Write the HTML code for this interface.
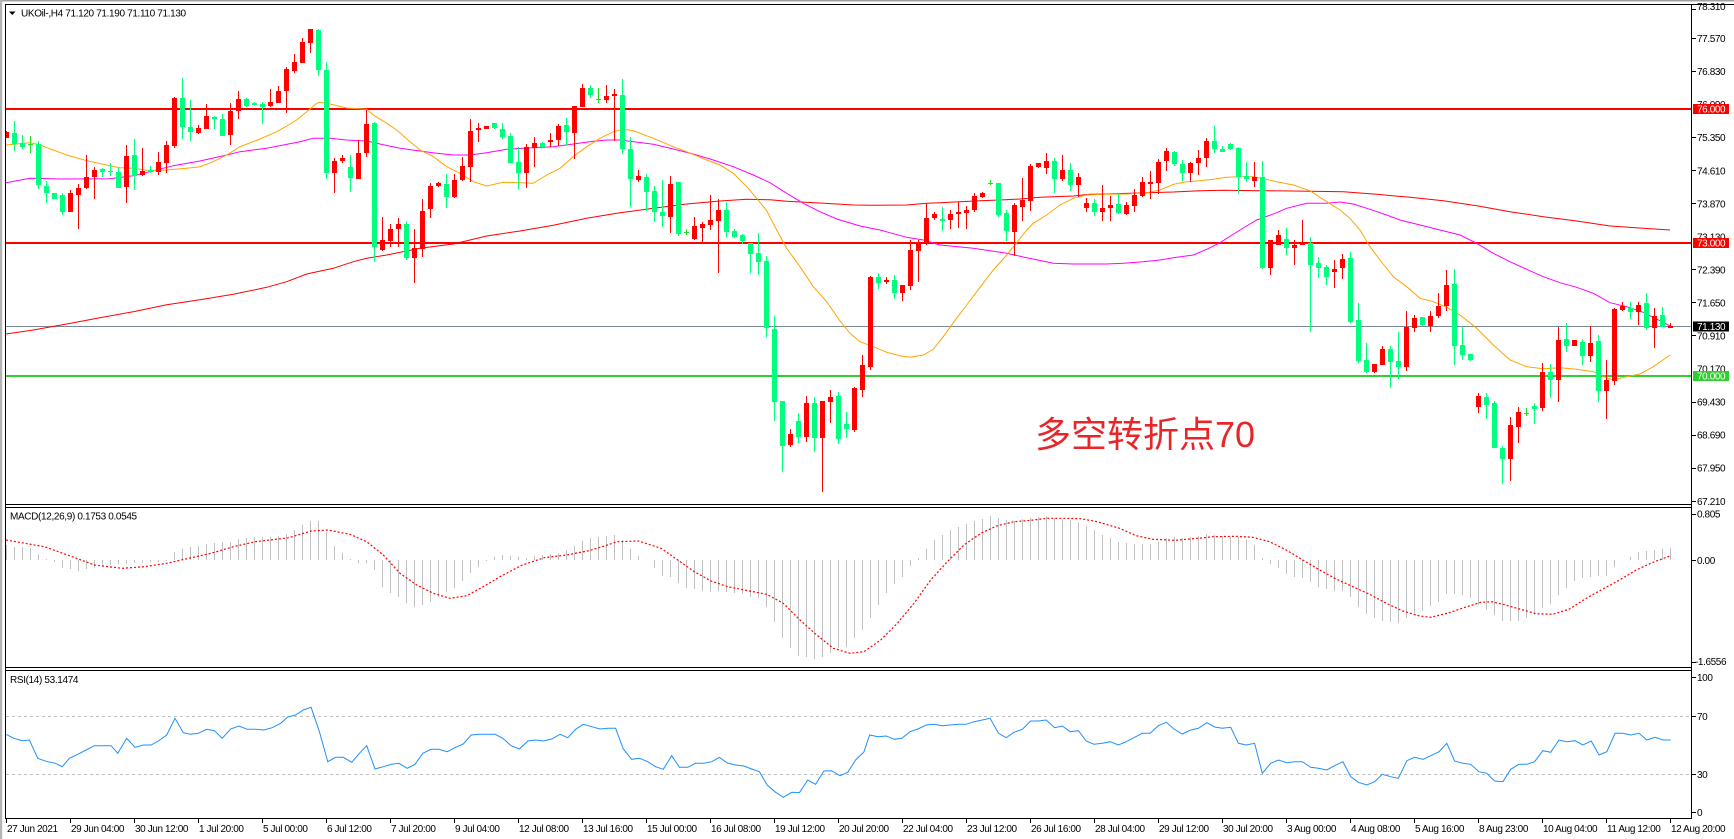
<!DOCTYPE html>
<html><head><meta charset="utf-8"><style>html,body{margin:0;padding:0;background:#fff;}svg{display:block;}</style></head><body>
<svg width="1734" height="839" viewBox="0 0 1734 839" xmlns="http://www.w3.org/2000/svg" font-family="'Liberation Sans', sans-serif" font-size="10">
<rect width="1734" height="839" fill="#fff"/>
<rect x="0" y="0" width="1734" height="1.5" fill="#a0a0a0"/>
<rect x="0" y="0" width="2.2" height="839" fill="#b4b4b4"/>
<defs><clipPath id="cm"><rect x="6" y="5" width="1685" height="499"/></clipPath></defs>

<!-- horizontal levels -->
<g shape-rendering="crispEdges">
<rect x="6" y="108" width="1685" height="2" fill="#ff0000"/>
<rect x="6" y="242" width="1685" height="2" fill="#ff0000"/>
<rect x="6" y="326" width="1685" height="1" fill="#778899"/>
<rect x="6" y="375" width="1685" height="2" fill="#32cd32"/>
</g>

<!-- moving averages -->
<g fill="none" stroke-width="1" clip-path="url(#cm)">
<polyline stroke="#ff0000" points="6,334 33.3,330 66.7,324 100,317.7 133.3,311.7 166.7,304.7 200,299.7 233.3,294.3 266.7,287.3 286.7,281.7 306.7,274 333.3,268.3 353.3,261.7 366.7,258.3 386.7,255 420,248.3 453.3,244 486.7,236 520,231 553.3,225.3 586.7,218.3 620,212.7 653.3,208.3 686.7,204 720,201 746.7,199.3 770,199.7 786.7,201.3 820,203 853.3,205 873.3,205.3 906.7,205 926.7,203.3 940,202.7 960,201.7 980,200.7 1000,200 1020,199 1040,197.3 1073.3,196 1090,194.3 1106.7,194 1130,193.3 1146.7,192.7 1173.3,192 1200,190.7 1223.3,190.3 1260,190.7 1293.3,191 1343.3,191.7 1376.7,194.3 1410,197.3 1443.3,200.7 1476.7,205.7 1510,211.7 1543.3,216.7 1576.7,221 1610,226 1643.3,228.3 1670,230"/>
<polyline stroke="#ff00ff" points="6,182.7 30,178.3 60,179 110,178.7 133.3,175.7 150,171.7 173.3,165.7 200,161 226.7,155 240,151.7 266.7,148.3 300,141.7 313.3,138.3 330,138.3 346.7,140 366.7,141 380,144 400,148.3 420,151 436.7,153.3 453.3,155 470,155 486.7,152.7 506.7,149.3 526.7,148 553.3,146.7 573.3,144 593.3,141.3 606.7,140 620,140 633.3,141.7 653.3,144.3 673.3,149 693.3,154 713.3,160 733.3,166.7 753.3,175 770,182.7 786.7,193.3 803.3,203.3 820,211.7 836.7,219 860,226 880,230 906.7,237.3 923.3,240 940,245 973.3,248.3 1006.7,253.3 1026.7,257.7 1053.3,263.3 1073.3,264 1106.7,264 1123.3,263.3 1140,262 1160,260 1173.3,257.7 1193.3,255 1206.7,249.3 1220,242.7 1240,230 1256.7,220 1276.7,212.7 1286.7,208.3 1306.7,203.3 1326.7,203.3 1340,202 1353.3,204 1370,209.3 1386.7,215 1400,220 1420,225 1440,230 1460,235 1476.7,243.3 1493.3,253.3 1510,261.7 1526.7,269.3 1543.3,276.7 1560,282.7 1576.7,287.3 1593.3,293.3 1610,302.7 1626.7,306.7 1643.3,312.3 1660,320.7 1670,326"/>
<polyline stroke="#ffa500" points="6,145 30,142.7 38,144.3 66.7,155 86.7,160.7 110,165.7 120,167.7 133.3,168.3 150,170.7 166.7,170 186.7,168.3 200,166.7 213.3,161.7 226.7,155 240,146.7 260,139 276.7,131.7 286.7,126 296.7,120 306.7,111.7 316.7,103.3 320,102.3 330,104 346.7,108 366.7,109.3 373.3,115 386.7,123.3 396.7,130 410,141.7 420,150 433.3,156.7 446.7,166.7 460,173.3 473.3,181.7 486.7,186 503.3,182.3 520,182.7 533.3,183.3 546.7,175 560,168.3 573.3,156.7 586.7,146.7 600,138.3 613.3,131.7 623.3,129.3 633.3,130.7 653.3,138.3 673.3,146.7 686.7,151.7 706.7,160 720,165 733.3,173.3 746.7,186.7 756.7,198.3 766.7,210.7 776.7,230 786.7,248.3 800,266.7 813.3,286.7 826.7,301.7 840,321 850,333.3 860,341.7 873.3,346.7 886.7,352.3 900,355.7 910,357.3 923.3,355 933.3,349.3 943.3,336.7 953.3,322.7 966.7,305 980,287.3 993.3,270 1006.7,255 1016.7,242.7 1026.7,230 1033.3,223.3 1046.7,215 1060,205 1073.3,198.3 1086.7,195 1106.7,194.3 1126.7,194 1146.7,192.7 1160,190 1173.3,184.3 1186.7,181.7 1200,180.7 1213.3,179.3 1226.7,177.3 1240,176.7 1253.3,176.7 1263.3,178.5 1276.7,181.7 1293.3,185 1310,190.7 1326.7,201.7 1340,210 1350,218.3 1360,230 1370,246.7 1380,260 1393.3,276.7 1406.7,286.7 1420,298.3 1433.3,301.7 1446.7,307.3 1460,315 1476.7,328.3 1493.3,345 1510,360 1526.7,366.7 1543.3,368.7 1560,367.7 1576.7,369.3 1593.3,371.7 1603.3,376.7 1613.3,380 1626.7,376.7 1640,374 1653.3,366.7 1670,355"/>
</g>

<!-- candles -->
<g fill="none" shape-rendering="crispEdges" clip-path="url(#cm)">
<path stroke="#ff0000" stroke-width="1" d="M6.5 131V138M70.5 190V212M78.5 184V229M86.5 155V189M94.5 167V199M126.5 145V203M142.5 148V176M158.5 152V175M166.5 141V173M174.5 97V148M198.5 125V134M206.5 104V129M230.5 103V145M238.5 91V119M270.5 89V107M278.5 86V103M286.5 67V113M294.5 54V73M302.5 38V63M310.5 29V53M334.5 158V193M342.5 155V163M358.5 140V179M366.5 110V157M382.5 217V251M390.5 224V247M398.5 218V247M414.5 229V283M422.5 199V257M430.5 183V218M438.5 182V187M454.5 174V198M462.5 157V181M470.5 119V182M478.5 123V142M486.5 126V129M526.5 144V188M534.5 137V167M550.5 133V147M558.5 124V146M574.5 106V159M582.5 84V107M606.5 85V103M614.5 89V141M638.5 170V182M670.5 176V233M694.5 217V240M702.5 222V244M710.5 195V230M718.5 199V273M790.5 429V447M806.5 396V442M822.5 401V492M830.5 390V423M854.5 387V432M862.5 355V397M870.5 276V370M886.5 277V284M902.5 285V301M910.5 240V290M918.5 240V282M926.5 203V245M934.5 212V220M950.5 210V229M958.5 202V228M966.5 206V229M974.5 193V212M982.5 192V198M1014.5 203V256M1022.5 178V221M1030.5 164V211M1038.5 163V168M1046.5 153V174M1062.5 155V181M1078.5 173V197M1086.5 198V212M1102.5 185V221M1110.5 196V221M1126.5 202V215M1134.5 189V212M1142.5 177V197M1150.5 171V199M1158.5 159V194M1166.5 148V171M1190.5 162V182M1198.5 150V175M1206.5 138V167M1254.5 162V187M1270.5 240V275M1278.5 230V245M1294.5 240V265M1302.5 220V245M1334.5 260V288M1342.5 254V279M1374.5 364V373M1382.5 346V365M1406.5 311V371M1414.5 315V332M1430.5 311V332M1438.5 293V318M1446.5 270V311M1478.5 393V413M1510.5 417V481M1518.5 407V443M1542.5 363V411M1558.5 327V402M1574.5 340V346M1590.5 326V362M1606.5 360V419M1614.5 308V385M1622.5 302V311M1638.5 302V325M1654.5 308V348M1670.5 323V328"/>
<path stroke="#ff0000" stroke-width="5" d="M6.5 132V138M70.5 193V212M78.5 188V195M86.5 177V188M94.5 170V177M126.5 156V187M142.5 171V175M158.5 162V172M166.5 145V163M174.5 98V146M198.5 128V133M206.5 116V129M230.5 111V135M238.5 99V111M270.5 102V106M278.5 91V103M286.5 69V91M294.5 62V71M302.5 42V63M310.5 29V43M334.5 161V173M342.5 158V161M358.5 153V179M366.5 124V153M382.5 240V250M390.5 229V241M398.5 224V229M414.5 248V258M422.5 211V249M430.5 186V209M438.5 183V186M454.5 180V197M462.5 166V180M470.5 131V167M478.5 128V130M486.5 126V129M526.5 147V173M534.5 143V148M550.5 140V142M558.5 126V140M574.5 106V133M582.5 88V107M606.5 96V100M614.5 94V96M638.5 176V180M670.5 184V217M694.5 226V239M702.5 224V228M710.5 220V225M718.5 210V221M790.5 434V445M806.5 403V437M822.5 401V438M830.5 397V402M854.5 388V430M862.5 365V390M870.5 277V367M886.5 280V282M902.5 285V293M910.5 250V286M918.5 243V251M926.5 218V244M934.5 214V218M950.5 214V220M958.5 212V214M966.5 210V213M974.5 196V210M982.5 193V197M1014.5 205V232M1022.5 200V207M1030.5 166V201M1038.5 163V167M1046.5 161V168M1062.5 170V179M1078.5 177V185M1086.5 203V208M1102.5 208V212M1110.5 205V208M1126.5 205V214M1134.5 195V206M1142.5 182V196M1150.5 182V184M1158.5 162V183M1166.5 151V161M1190.5 163V173M1198.5 158V163M1206.5 141V158M1254.5 177V181M1270.5 240V268M1278.5 235V245M1294.5 245V248M1302.5 243V245M1334.5 269V272M1342.5 259V268M1374.5 364V372M1382.5 349V365M1406.5 327V367M1414.5 318V328M1430.5 316V326M1438.5 306V316M1446.5 285V306M1478.5 396V407M1510.5 425V459M1518.5 412V427M1542.5 372V408M1558.5 340V380M1574.5 340V346M1590.5 343V356M1606.5 380V391M1614.5 309V381M1622.5 306V310M1638.5 305V312M1654.5 316V328M1670.5 326V328"/>
<path stroke="#00ff7f" stroke-width="1" d="M14.5 121V151M22.5 135V149M38.5 141V189M46.5 181V203M54.5 193V199M62.5 193V215M102.5 168V177M110.5 163V176M118.5 168V188M134.5 139V190M150.5 166V173M182.5 78V139M190.5 100V141M214.5 116V129M222.5 114V136M246.5 98V107M254.5 102V106M262.5 102V124M318.5 29V76M326.5 62V179M350.5 155V192M374.5 122V262M406.5 221V260M446.5 174V208M494.5 123V129M502.5 123V139M510.5 133V163M518.5 147V189M542.5 142V147M566.5 118V145M590.5 85V98M622.5 79V154M630.5 137V207M646.5 174V211M654.5 186V222M662.5 180V227M678.5 182V236M726.5 202V237M734.5 229V238M742.5 234V244M750.5 243V273M758.5 233V275M766.5 256V337M774.5 316V421M782.5 401V472M798.5 413V443M814.5 397V452M838.5 392V444M846.5 412V438M878.5 273V289M894.5 275V299M942.5 207V231M998.5 183V217M1006.5 210V241M1054.5 158V193M1070.5 163V191M1094.5 199V216M1118.5 193V214M1174.5 151V166M1182.5 160V181M1214.5 126V153M1222.5 146V152M1230.5 143V150M1238.5 147V194M1246.5 162V182M1262.5 161V269M1286.5 228V255M1310.5 237V332M1318.5 257V278M1326.5 265V285M1350.5 252V323M1358.5 303V363M1366.5 343V373M1390.5 346V388M1398.5 332V379M1422.5 317V326M1454.5 269V365M1462.5 327V360M1470.5 354V361M1486.5 393V419M1494.5 401V448M1502.5 446V484M1534.5 403V424M1550.5 364V398M1566.5 323V352M1582.5 339V365M1598.5 335V402M1630.5 302V319M1646.5 293V330M1662.5 307V327"/>
<path stroke="#00ff7f" stroke-width="5" d="M14.5 133V144M22.5 143V147M38.5 144V185M46.5 186V193M54.5 193V199M62.5 195V212M102.5 169V172M110.5 171V172M118.5 172V188M134.5 155V176M150.5 170V172M182.5 98V127M190.5 127V132M214.5 117V119M222.5 119V136M246.5 99V106M254.5 103V105M262.5 104V107M318.5 30V70M326.5 70V173M350.5 167V178M374.5 123V247M406.5 224V258M446.5 184V197M494.5 123V128M502.5 129V137M510.5 136V163M518.5 162V173M542.5 143V147M566.5 125V132M590.5 88V95M622.5 95V149M630.5 149V179M646.5 177V192M654.5 191V212M662.5 212V216M678.5 182V234M726.5 210V232M734.5 231V237M742.5 235V241M750.5 243V254M758.5 253V262M766.5 261V328M774.5 329V402M782.5 401V446M798.5 421V437M814.5 403V438M838.5 396V439M846.5 424V429M878.5 277V283M894.5 280V293M942.5 219V221M998.5 183V215M1006.5 213V231M1054.5 161V179M1070.5 170V185M1094.5 203V212M1118.5 204V213M1174.5 152V164M1182.5 164V173M1214.5 141V149M1222.5 149V152M1230.5 144V149M1238.5 148V177M1246.5 176V179M1262.5 177V268M1286.5 239V248M1310.5 243V265M1318.5 263V268M1326.5 267V277M1350.5 258V322M1358.5 320V361M1366.5 360V372M1390.5 349V362M1398.5 361V367M1422.5 317V325M1454.5 284V346M1462.5 345V355M1470.5 354V360M1486.5 397V405M1494.5 403V448M1502.5 448V459M1534.5 406V409M1550.5 372V380M1566.5 339V346M1582.5 342V356M1598.5 341V391M1630.5 308V312M1646.5 303V328M1662.5 315V327"/>
<path stroke="#22dd22" stroke-width="1" d="M30.5 136V153M28 144.5h5M598.5 88V103M596 99.5h5M686.5 229V235M684 232.5h5M990.5 180V185M988 183.5h5M1526.5 408V416M1524 413.5h5"/>
</g>

<!-- annotation -->
<text x="1035" y="447" font-size="36" fill="#e8262a" font-family="'Liberation Sans','Noto Sans CJK SC',sans-serif">多空转折点70</text>

<!-- MACD -->
<path fill="none" stroke="#c0c0c0" stroke-width="1" shape-rendering="crispEdges" d="M6.5 560V545M14.5 560V547M22.5 560V547M30.5 560V548M38.5 560V554M46.5 560V559M54.5 560V562M62.5 560V568M70.5 560V569M78.5 560V571M86.5 560V569M94.5 560V568M102.5 560V567M110.5 560V565M118.5 560V564M126.5 560V564M134.5 560V563M142.5 560V563M150.5 560V562M158.5 560V562M166.5 560V561M174.5 560V552M182.5 560V549M190.5 560V547M198.5 560V546M206.5 560V544M214.5 560V543M222.5 560V542M230.5 560V542M238.5 560V539M246.5 560V538M254.5 560V537M262.5 560V537M270.5 560V537M278.5 560V536M286.5 560V534M294.5 560V530M302.5 560V525M310.5 560V521M318.5 560V521M326.5 560V532M334.5 560V546M342.5 560V553M350.5 560V559M358.5 560V563M366.5 560V563M374.5 560V570M382.5 560V587M390.5 560V593M398.5 560V597M406.5 560V603M414.5 560V607M422.5 560V605M430.5 560V602M438.5 560V597M446.5 560V592M454.5 560V588M462.5 560V581M470.5 560V573M478.5 560V567M486.5 560V561M494.5 560V557M502.5 560V555M510.5 560V556M518.5 560V557M526.5 560V558M534.5 560V556M542.5 560V555M550.5 560V554M558.5 560V553M566.5 560V550M574.5 560V546M582.5 560V541M590.5 560V538M598.5 560V537M606.5 560V536M614.5 560V535M622.5 560V540M630.5 560V549M638.5 560V556M654.5 560V568M662.5 560V576M670.5 560V577M678.5 560V583M686.5 560V588M694.5 560V589M702.5 560V591M710.5 560V592M718.5 560V591M726.5 560V592M734.5 560V593M742.5 560V594M750.5 560V597M758.5 560V598M766.5 560V607M774.5 560V622M782.5 560V638M790.5 560V648M798.5 560V656M806.5 560V657M814.5 560V659M822.5 560V657M830.5 560V653M838.5 560V648M846.5 560V647M854.5 560V638M862.5 560V630M870.5 560V618M878.5 560V605M886.5 560V593M894.5 560V584M902.5 560V577M910.5 560V566M918.5 560V558M926.5 560V549M934.5 560V540M942.5 560V535M950.5 560V530M958.5 560V527M966.5 560V524M974.5 560V521M982.5 560V519M990.5 560V516M998.5 560V518M1006.5 560V520M1014.5 560V521M1022.5 560V519M1030.5 560V518M1038.5 560V517M1046.5 560V516M1054.5 560V518M1062.5 560V519M1070.5 560V520M1078.5 560V522M1086.5 560V526M1094.5 560V530M1102.5 560V535M1110.5 560V538M1118.5 560V542M1126.5 560V543M1134.5 560V544M1142.5 560V544M1150.5 560V544M1158.5 560V542M1166.5 560V538M1174.5 560V537M1182.5 560V538M1190.5 560V537M1198.5 560V536M1206.5 560V534M1214.5 560V535M1222.5 560V536M1230.5 560V537M1238.5 560V537M1246.5 560V540M1254.5 560V545M1262.5 560V558M1270.5 560V564M1278.5 560V568M1286.5 560V574M1294.5 560V577M1302.5 560V578M1310.5 560V582M1318.5 560V587M1326.5 560V589M1334.5 560V591M1342.5 560V591M1350.5 560V597M1358.5 560V607M1366.5 560V614M1374.5 560V618M1382.5 560V621M1390.5 560V622M1398.5 560V623M1406.5 560V618M1414.5 560V613M1422.5 560V611M1430.5 560V606M1438.5 560V602M1446.5 560V594M1454.5 560V594M1462.5 560V595M1470.5 560V598M1478.5 560V605M1486.5 560V610M1494.5 560V615M1502.5 560V621M1510.5 560V621M1518.5 560V621M1526.5 560V618M1534.5 560V615M1542.5 560V608M1550.5 560V604M1558.5 560V595M1566.5 560V588M1574.5 560V581M1582.5 560V578M1590.5 560V577M1598.5 560V576M1606.5 560V576M1614.5 560V567M1630.5 560V557M1638.5 560V552M1646.5 560V551M1654.5 560V550M1662.5 560V549M1670.5 560V548"/>
<polyline fill="none" stroke="#ff0000" stroke-width="1.2" stroke-dasharray="2 2" points="6,540 44.4,546.7 72.2,556.7 94.4,565 122.2,568.3 144.4,566.7 166.7,563.3 188.9,558.3 211.1,553.3 233.3,546.7 255.6,541.7 288.9,537.7 311.1,531 327.8,530 350,534.3 366.7,541.7 383.3,555 400,573.3 416.7,585 433.3,593.3 450,598.3 466.7,595.7 483.3,586.7 500,576.7 522.2,565 544.4,557.7 566.7,555 588.9,550.7 605.6,545.7 616.7,541.7 638.9,541 661.1,548.3 677.8,560 694.4,571.7 711.1,581 727.8,586.7 744.4,590 766.7,594.3 783.3,603.3 800,620 816.7,635 833.3,648.3 850,653.3 864,651.7 880.7,640 897.3,623.3 914,603.3 930.7,580 947.3,561.7 964,545 980.7,533.3 997.3,525.7 1014,521.7 1030.7,520.3 1047.3,518.3 1064,518.3 1080.7,518.7 1097.3,521.7 1119.6,528.3 1136.2,535.7 1152.9,539.3 1175.1,540.3 1197.3,538.3 1214,536.7 1236.2,536.3 1252.9,537.3 1269.6,541.7 1286.2,550 1302.9,560 1319.6,570 1336.2,579 1352.9,586.7 1369.6,594.3 1386.2,603.3 1402.9,611 1419.6,616 1430.7,617.3 1447.3,613.3 1464,607.7 1480.7,602.3 1491.8,601.7 1502.9,604.3 1519.6,609 1536.2,613.7 1552.9,614.3 1569.6,609 1586.2,598.3 1602.9,589 1619.6,580 1636.2,570 1652.9,562.3 1670.7,555.7"/>

<!-- RSI -->
<g shape-rendering="crispEdges" stroke="#c0c0c0" stroke-dasharray="3 3" fill="none">
<path d="M6 716.5H1691M6 774.5H1691"/>
</g>
<polyline fill="none" stroke="#1e90ff" stroke-width="1" points="6,734.3 13.9,738.3 22.2,740.7 29.4,740 37.8,758.3 47.2,761.7 55.6,763.3 62.2,766.7 69.4,758.3 77.8,754.3 86.1,750 94.4,745.7 102.8,745.7 111.1,745.7 117.8,753.3 126.7,738.3 135,747.3 143.3,745 151.1,745 158.3,741 166.7,735 175,718.3 183.3,732.7 190.6,734.3 198.3,733.3 206.7,729.3 214.4,730.7 222.2,738.3 230.6,729 238.9,726 247.2,729.3 255.6,729.3 263.9,730 272.2,727.7 280.6,723.3 287.8,717 295.6,715 303.3,710 311.1,707.3 319.4,731.7 327.8,761.7 335.6,757.3 343.3,757.3 351.7,762.3 359.4,753.3 366.7,745.7 375,769 383.3,766.7 391.7,764.3 398.9,763.3 407.2,768.3 415,764.3 422.8,753.3 431.1,749.3 438.9,749.3 447.2,751.7 455.6,747.3 463.3,744 471.1,735 478.9,734.3 487.2,734.3 495,734.3 502.8,738.3 511.1,745.7 519.4,749 527.8,741 535.6,740 543.3,741 551.7,739 560,734.3 567.8,737.7 575.6,729.3 583.3,724.3 591.7,726.7 600,729 607.8,728.3 615.6,728.3 623.3,749 631.7,759.3 639.4,758.3 647.8,761.7 655.6,766.7 663.3,769.3 671.7,755.7 679.4,767.3 687.8,767.3 695.6,763.3 703.9,763.3 711.7,761.7 719.4,757.3 727.8,763.3 735.6,765 743.9,766 751.7,769 759.4,771.7 767.2,785 775.6,792.3 783.3,797.3 791.7,792.3 799.4,792.7 807.8,780 815.6,784.3 823.9,771 831.7,770.7 840,775.7 847.8,772.3 855.6,760 863.9,752 869.6,735 877.9,736.7 886.2,736 894.6,739.3 901.8,738.3 910.1,731.7 917.9,729 926.2,725 934,724.3 942.3,725.7 950.1,725 958.4,724.3 966.2,724.3 974,721.7 982.3,720 990.1,718.3 998.4,733.3 1006.2,737.7 1014,732.3 1022.3,729.3 1030.7,721 1038.4,721 1046.2,720 1054.6,727.7 1062.3,726 1070.1,731.7 1078.4,730.7 1086.2,741 1094,744.3 1102.3,743.3 1110.1,741.7 1118.4,745 1126.2,741.7 1134.6,737.3 1142.3,733.3 1150.1,733.3 1158.4,725.7 1166.2,722.3 1174,729 1182.3,734 1190.7,730 1198.4,728.3 1206.8,722.7 1214.6,727 1222.3,728.3 1230.7,727.3 1238.4,743.3 1246.2,745 1254.6,743.3 1262.3,773.3 1270.7,763.3 1278.4,760 1286.8,762.7 1294.6,761.7 1302.3,761.7 1310.7,767.3 1318.4,768.3 1326.8,770 1334.6,765.7 1342.9,761.7 1350.7,776.7 1358.4,782.3 1366.8,785 1374.6,781.7 1382.3,774.3 1390.7,776.7 1398.4,778.3 1406.8,760.7 1414.6,757.3 1423,759.3 1430.7,755.7 1439,751.7 1446.8,743.3 1454.6,761 1462.9,763.3 1470.7,764.3 1479,771.7 1486.8,773.3 1494.6,781 1502.9,781.7 1510.7,769.3 1519,764.3 1526.8,764.3 1534.6,761.7 1542.9,750.7 1550.7,752.3 1559,740 1566.8,741.7 1575.1,740.7 1582.9,745 1591.2,741 1599,755 1606.8,751.7 1615.1,733.3 1622.9,733.3 1630.7,735 1639,733.3 1646.8,740 1655.1,737.3 1663,740 1670.7,740"/>

<!-- frame lines -->
<g stroke="#000" stroke-width="1" fill="none" shape-rendering="crispEdges">
<path d="M5 4.5H1734"/>
<path d="M5.5 4V819"/>
<path d="M1691.5 4V819"/>
<path d="M5 504.5H1692M5 507.5H1692M5 667.5H1692M5 670.5H1692M5 818.5H1692"/>
<path d="M1692 9.5h4M1692 38.5h4M1692 71.5h4M1692 137.5h4M1692 170.5h4M1692 203.5h4M1692 269.5h4M1692 302.5h4M1692 335.5h4M1692 402.5h4M1692 435.5h4M1692 468.5h4M1692 501.5h4M1692 514.5h4M1692 560.5h4M1692 662.5h4M1692 677.5h4M1692 716.5h4M1692 774.5h4M1692 812.5h4"/>
<path d="M6.5 819V823M70.5 819V823M134.5 819V823M198.5 819V823M262.5 819V823M326.5 819V823M390.5 819V823M454.5 819V823M518.5 819V823M582.5 819V823M646.5 819V823M710.5 819V823M774.5 819V823M838.5 819V823M902.5 819V823M966.5 819V823M1030.5 819V823M1094.5 819V823M1158.5 819V823M1222.5 819V823M1286.5 819V823M1350.5 819V823M1414.5 819V823M1478.5 819V823M1542.5 819V823M1606.5 819V823M1670.5 819V823"/>
</g>

<!-- header texts -->
<polygon points="9,11.5 15.5,11.5 12.25,15" fill="#000"/>
<g fill="#000" letter-spacing="-0.35">
<text x="21" y="16.5">UKOil-,H4  71.120 71.190 71.110 71.130</text>
<text x="10" y="519.5">MACD(12,26,9) 0.1753 0.0545</text>
<text x="10" y="683">RSI(14) 53.1474</text>
</g>

<!-- price axis labels -->
<g fill="#000" letter-spacing="-0.4">
<text x="1697" y="10">78.310</text>
<text x="1697" y="42.1">77.570</text>
<text x="1697" y="75.1">76.830</text>
<text x="1697" y="108.2">76.090</text>
<text x="1697" y="141.2">75.350</text>
<text x="1697" y="174.3">74.610</text>
<text x="1697" y="207.3">73.870</text>
<text x="1697" y="240.4">73.130</text>
<text x="1697" y="273.4">72.390</text>
<text x="1697" y="306.5">71.650</text>
<text x="1697" y="339.5">70.910</text>
<text x="1697" y="372.6">70.170</text>
<text x="1697" y="405.6">69.430</text>
<text x="1697" y="438.7">68.690</text>
<text x="1697" y="471.7">67.950</text>
<text x="1697" y="504.8">67.210</text>
<text x="1697" y="517.5">0.805</text>
<text x="1697" y="564.2">0.00</text>
<text x="1695" y="665.2">-1.6556</text>
<text x="1697" y="681.2">100</text>
<text x="1697" y="720.2">70</text>
<text x="1697" y="777.8">30</text>
<text x="1697" y="816.2">0</text>
</g>
<g shape-rendering="crispEdges">
<rect x="1693" y="104" width="36" height="10" fill="#ff0000"/>
<rect x="1693" y="238" width="36" height="10" fill="#ff0000"/>
<rect x="1693" y="321.5" width="36" height="10" fill="#000"/>
<rect x="1693" y="371" width="36" height="10" fill="#32cd32"/>
</g>
<g fill="#fff" letter-spacing="-0.4">
<text x="1697" y="112.5">76.000</text>
<text x="1697" y="246.5">73.000</text>
<text x="1697" y="330">71.130</text>
<text x="1697" y="379.5">70.000</text>
</g>

<!-- time axis labels -->
<g fill="#000" letter-spacing="-0.4">
<text x="7" y="832">27 Jun 2021</text>
<text x="71" y="832">29 Jun 04:00</text>
<text x="135" y="832">30 Jun 12:00</text>
<text x="199" y="832">1 Jul 20:00</text>
<text x="263" y="832">5 Jul 00:00</text>
<text x="327" y="832">6 Jul 12:00</text>
<text x="391" y="832">7 Jul 20:00</text>
<text x="455" y="832">9 Jul 04:00</text>
<text x="519" y="832">12 Jul 08:00</text>
<text x="583" y="832">13 Jul 16:00</text>
<text x="647" y="832">15 Jul 00:00</text>
<text x="711" y="832">16 Jul 08:00</text>
<text x="775" y="832">19 Jul 12:00</text>
<text x="839" y="832">20 Jul 20:00</text>
<text x="903" y="832">22 Jul 04:00</text>
<text x="967" y="832">23 Jul 12:00</text>
<text x="1031" y="832">26 Jul 16:00</text>
<text x="1095" y="832">28 Jul 04:00</text>
<text x="1159" y="832">29 Jul 12:00</text>
<text x="1223" y="832">30 Jul 20:00</text>
<text x="1287" y="832">3 Aug 00:00</text>
<text x="1351" y="832">4 Aug 08:00</text>
<text x="1415" y="832">5 Aug 16:00</text>
<text x="1479" y="832">8 Aug 23:00</text>
<text x="1543" y="832">10 Aug 04:00</text>
<text x="1607" y="832">11 Aug 12:00</text>
<text x="1671" y="832">12 Aug 20:00</text>
</g>
</svg>
</body></html>
